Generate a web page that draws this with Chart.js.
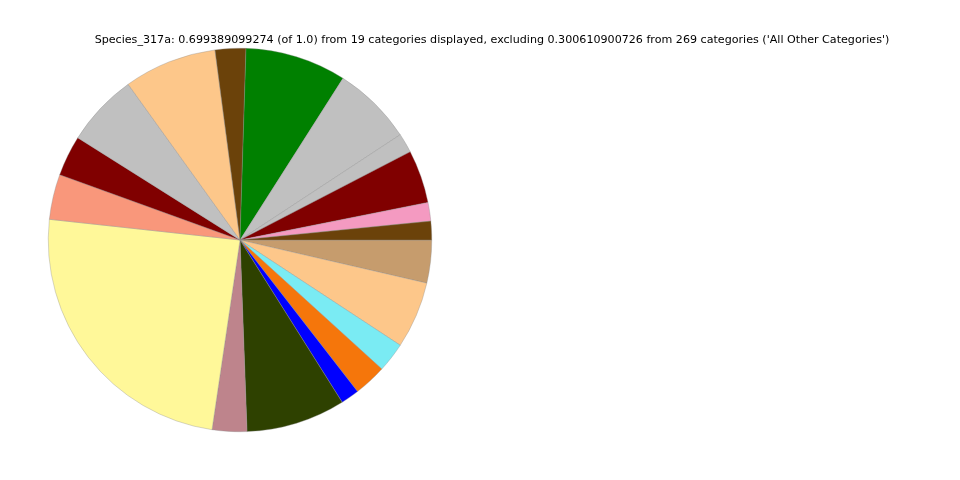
<!DOCTYPE html>
<html>
<head>
<meta charset="utf-8">
<script src="https://cdn.jsdelivr.net/npm/chart.js@4/dist/chart.umd.min.js"></script>
<style>
html,body{margin:0;padding:0;background:#fff;}
#wrap{width:960px;height:480px;position:relative;}
</style>
</head>
<body>
<div id="wrap"><canvas id="c" width="960" height="480"></canvas></div>
<script>
// Slices listed counter-clockwise from 3 o'clock (as in the reference)
const categories = ["Cat 1","Cat 2","Cat 3","Cat 4","Cat 5","Cat 6","Cat 7","Cat 8","Cat 9","Cat 10",
  "Cat 11","Cat 12","Cat 13","Cat 14","Cat 15","Cat 16","Cat 17","Cat 18","Cat 19"];
const values = [0.01098,0.01098,0.03128,0.01146,0.04701,0.05964,0.01807,0.05478,0.04293,0.02390,
  0.02662,0.17057,0.02040,0.05848,0.01088,0.01923,0.01748,0.03944,0.02526];
const colors = ["#6b420a","#f49ac1","#800000","#c0c0c0","#c0c0c0","#008000","#6b420a","#fdc78a","#c0c0c0","#800000",
  "#f9977b","#fff899","#be848c","#2e4100","#0000ff","#f5760b","#7aebf3","#fdc78a","#c69c6d"];
const titleText = "Species_317a: 0.699389099274 (of 1.0) from 19 categories displayed, excluding 0.300610900726 from 269 categories ('All Other Categories')";

const titlePlugin = {
  id: 'mplTitle',
  afterDraw(chart) {
    const ctx = chart.ctx;
    ctx.save();
    ctx.font = '11.12px "DejaVu Sans"';
    ctx.fillStyle = '#000';
    ctx.textAlign = 'center';
    ctx.textBaseline = 'middle';
    ctx.fillText(titleText, 492, 40);
    ctx.restore();
  }
};

new Chart(document.getElementById('c'), {
  type: 'pie',
  data: {
    labels: categories.slice().reverse(),
    datasets: [{
      data: values.slice().reverse(),
      backgroundColor: colors.slice().reverse(),
      borderColor: 'rgba(140,140,140,0.7)',
      borderWidth: 0.5
    }]
  },
  options: {
    responsive: false,
    animation: false,
    rotation: 90,
    layout: { padding: { left: 48, top: 48, right: 528, bottom: 48 } },
    plugins: { legend: { display: false }, title: { display: false }, tooltip: { enabled: false } }
  },
  plugins: [titlePlugin]
});
</script>
</body>
</html>
